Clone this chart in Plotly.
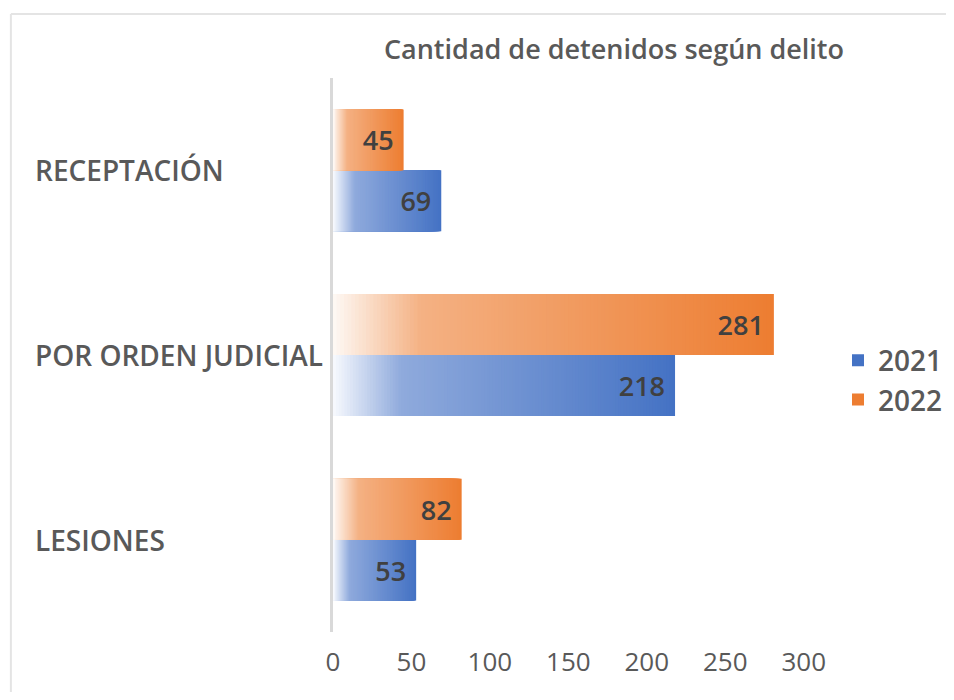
import plotly.graph_objects as go

# ---- data ----
categories = ["RECEPTACIÓN", "POR ORDEN JUDICIAL", "LESIONES"]
values_2021 = [69, 218, 53]
values_2022 = [45, 281, 82]
series_names = ["2021", "2022"]
x_ticks = [0, 50, 100, 150, 200, 250, 300]
title_text = "Cantidad de detenidos según delito"

# ---- style ----
OFF = 8  # default page body margin
W, H = 954 - OFF, 700 - 2 * OFF
PL, PR, PT, PB = 333 - OFF, 805 - OFF, 78 - OFF, 632 - OFF  # plot area in figure px
L, R, T, B = PL, W - PR, PT, H - PB
FONT = "Open Sans"
TXT = "#595959"
WEIGHT = 600
BAR_W = 0.33
N_STEPS = 120

grad = {
    "2021": [(0.0, (248, 250, 254)), (0.2, (143, 170, 220)), (1.0, (68, 114, 196))],
    "2022": [(0.0, (254, 249, 245)), (0.2, (244, 177, 131)), (1.0, (237, 125, 49))],
}


def color_at(stops, f):
    for (f0, c0), (f1, c1) in zip(stops, stops[1:]):
        if f <= f1:
            t = (f - f0) / (f1 - f0) if f1 > f0 else 0
            c = [round(a + (b - a) * t) for a, b in zip(c0, c1)]
            return "rgb(%d,%d,%d)" % tuple(c)
    return "rgb(%d,%d,%d)" % stops[-1][1]


fig = go.Figure()

series = [("2021", values_2021, -BAR_W), ("2022", values_2022, 0.0)]
for name, vals, off in series:
    stops = grad[name]
    for k in range(N_STEPS, 0, -1):
        frac = k / N_STEPS
        fig.add_trace(go.Bar(
            y=categories, x=[v * frac for v in vals], orientation="h",
            offset=off, width=BAR_W,
            marker=dict(color=color_at(stops, (k - 0.5) / N_STEPS), line=dict(width=0)),
            name=name, legendgroup=name, showlegend=(k == N_STEPS),
            hoverinfo="skip",
        ))
    # transparent top layer carrying the value labels
    fig.add_trace(go.Bar(
        y=categories, x=vals, orientation="h", offset=off, width=BAR_W,
        marker=dict(color="rgba(0,0,0,0)", line=dict(width=0)),
        text=[str(v) for v in vals], texttemplate="%{text}\u00a0",
        textposition="inside", insidetextanchor="end",
        textfont=dict(family=FONT, size=27, color="#404040", weight=WEIGHT),
        constraintext="none", showlegend=False, legendgroup=name, name=name,
    ))

plot_w = PR - PL
plot_h = PB - PT


def px_x(px):
    return (px - OFF - PL) / plot_w


def px_y(py):
    return (PB - (py - OFF)) / plot_h


annotations = [
    dict(text=c, x=px_x(32), xref="paper", xanchor="left", y=c, yref="y",
         yanchor="middle", showarrow=False,
         font=dict(family=FONT, size=28, color=TXT, weight=WEIGHT))
    for c in categories
]

fig.update_layout(
    width=W, height=H,
    margin=dict(l=L, r=R, t=T, b=B),
    barmode="overlay",
    plot_bgcolor="white", paper_bgcolor="white",
    title=dict(text=title_text, x=(614 - OFF) / W, xref="container", xanchor="center",
               y=1 - (50 - OFF) / H, yref="container", yanchor="middle",
               font=dict(family=FONT, size=27, color=TXT, weight=WEIGHT)),
    xaxis=dict(range=[0, 300], tickvals=x_ticks, showgrid=False, zeroline=False,
               showline=False, ticks="", ticklabelstandoff=12,
               tickfont=dict(family=FONT, size=26, color=TXT), fixedrange=True),
    yaxis=dict(categoryorder="array", categoryarray=categories[::-1],
               range=[-0.5, 2.5], showticklabels=False, showgrid=False,
               zeroline=False, showline=True, linecolor="#D9D9D9", linewidth=3,
               ticks=""),
    legend=dict(x=(838 - OFF) / W, xref="container", xanchor="left",
                y=1 - (380 - OFF) / H, yref="container", yanchor="middle",
                font=dict(family=FONT, size=28, color=TXT, weight=WEIGHT),
                traceorder="normal", itemwidth=30, bgcolor="rgba(0,0,0,0)"),
    annotations=annotations,
    shapes=[
        dict(type="line", xref="paper", yref="paper", x0=px_x(10), x1=px_x(W + 40),
             y0=px_y(14), y1=px_y(14), line=dict(color="#E4E4E4", width=2), layer="below"),
        dict(type="line", xref="paper", yref="paper", x0=px_x(10), x1=px_x(10),
             y0=px_y(14), y1=px_y(H + 40), line=dict(color="#E4E4E4", width=2), layer="below"),
    ],
    showlegend=True,
)

fig.write_html("out.html")
